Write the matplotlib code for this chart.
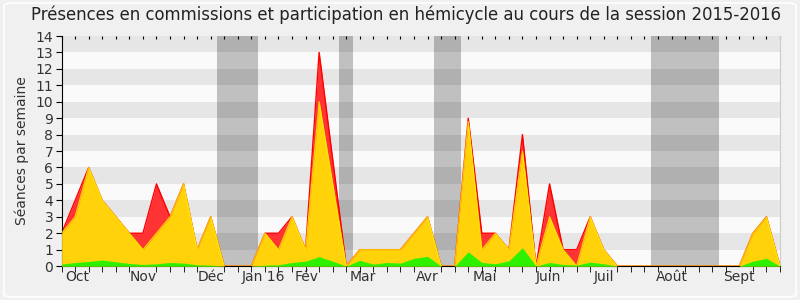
import matplotlib
matplotlib.use("Agg")
import matplotlib.pyplot as plt
from matplotlib.patches import FancyBboxPatch
import numpy as np

# Weekly values (week index 0..53)
commission = [2, 4, 6, 4, 3, 2, 2, 5, 3, 5, 1, 3, 0, 0, 0, 2, 2, 3, 1, 13, 6.5, 0,
              1, 1, 1, 1, 2, 3, 0, 0, 9, 2, 2, 1, 8, 0, 5, 1, 1, 3, 1,
              0, 0, 0, 0, 0, 0, 0, 0, 0, 0, 2, 3, 0]
hemicycle = [2, 3, 6, 4, 3, 2, 1, 2, 3, 5, 1, 3, 0, 0, 0, 2, 1, 3, 1, 10, 5, 0,
             1, 1, 1, 1, 2, 3, 0, 0, 8.8, 1, 2, 1, 7, 0, 3, 1, 0, 3, 1,
             0, 0, 0, 0, 0, 0, 0, 0, 0, 0, 2, 3, 0]
interventions = [0.12, 0.22, 0.28, 0.37, 0.26, 0.16, 0.1, 0.14, 0.22, 0.18, 0.08, 0.06,
                 0, 0, 0, 0.06, 0.08, 0.22, 0.3, 0.57, 0.3, 0,
                 0.35, 0.12, 0.22, 0.18, 0.47, 0.59, 0, 0, 0.87, 0.22, 0.14, 0.32, 1.12, 0,
                 0.22, 0.1, 0.06, 0.24, 0.14,
                 0, 0, 0, 0, 0, 0, 0, 0, 0, 0, 0.3, 0.47, 0]
vacations = [(11.5, 14.5), (20.5, 21.5), (27.5, 29.5), (43.5, 48.5)]
month_labels = ["Oct", "Nov", "Déc", "Jan 16", "Fév", "Mar", "Avr", "Mai", "Juin", "Juil", "Août", "Sept"]
month_pos = [1.15, 6, 11, 14.9, 18.1, 22.2, 27, 31.2, 35.9, 40, 45, 50]

weeks = np.arange(len(commission))

fig = plt.figure(figsize=(8, 3), dpi=100, facecolor="#f0f0f0")
fig.patches.append(FancyBboxPatch((0.005, 0.01), 0.99, 0.98, boxstyle="round,pad=0,rounding_size=0.01",
                                  transform=fig.transFigure, facecolor="none",
                                  edgecolor="white", lw=1.2))
ax = fig.add_axes([0.077, 0.113, 0.898, 0.767])
ax.set_facecolor("#fafafa")

ymax = 14
for k in range(ymax):
    if k % 2 == 1:
        ax.axhspan(k, k + 1, color="#e6e6e6", zorder=0, lw=0)
for a, b in vacations:
    ax.axvspan(a, b, color="black", alpha=0.23, zorder=1, lw=0)

ax.fill_between(weeks, 0, commission, color="#ff3333", zorder=2, lw=0)
ax.plot(weeks, commission, color="#ff0000", lw=1.0, zorder=2.5)
ax.fill_between(weeks, 0, hemicycle, color="#ffd20a", zorder=3, lw=0)
ax.plot(weeks, hemicycle, color="#ffee00", lw=0.9, zorder=3.5, alpha=0.8)
ax.fill_between(weeks, 0, interventions, color="#2ef000", zorder=4, lw=0)

ax.set_xlim(0, len(weeks) - 1)
ax.set_ylim(0, ymax)
ax.set_yticks(range(0, ymax + 1))
ax.tick_params(axis="y", direction="out", length=4, labelsize=10, color="black",
               labelcolor="#333333", pad=2)
ax.set_xticks(weeks, minor=True)
ax.set_xticks(month_pos)
ax.set_xticklabels(month_labels)
ax.tick_params(axis="x", which="major", length=0, labelsize=10, labelcolor="#333333", pad=3)
ax.tick_params(axis="x", which="minor", direction="out", length=4, color="black")

top = ax.secondary_xaxis("top")
top.set_xticks(weeks)
top.set_xticklabels([])
top.tick_params(direction="in", length=2, color="black")
top.spines["top"].set_visible(False)

ax.spines["top"].set_visible(False)
ax.spines["right"].set_color("#cccccc")
ax.spines["left"].set_color("black")
ax.spines["bottom"].set_color("black")

ax.set_ylabel("Séances par semaine", fontsize=10, color="#333333", labelpad=5)
fig.text(0.508, 0.952, "Présences en commissions et participation en hémicycle au cours de la session 2015-2016",
         ha="center", va="center", fontsize=11.9, color="#222222")

fig.savefig("out.png", dpi=100, facecolor=fig.get_facecolor())
